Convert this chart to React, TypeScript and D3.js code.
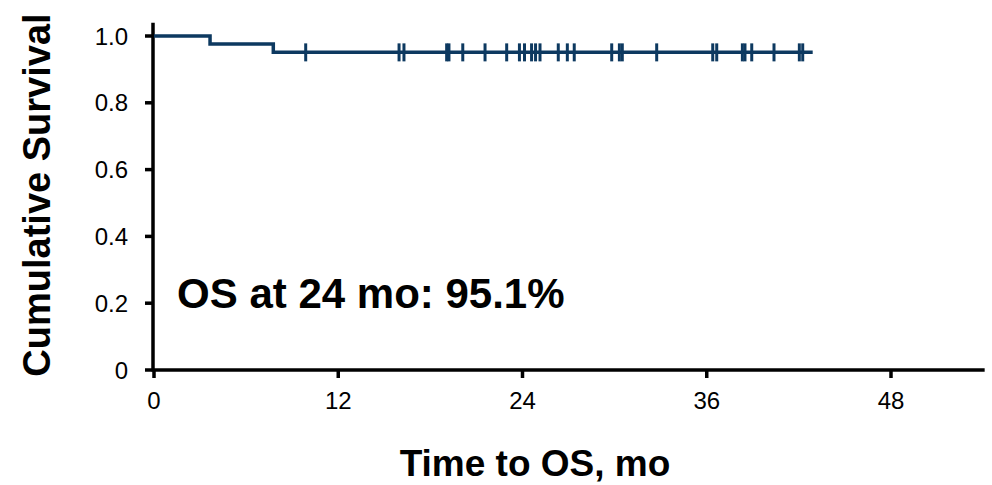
import React from 'react';
import * as d3 from 'd3';

// Kaplan-Meier overall survival
const eventTimes = [3.65, 7.77];
const survivalLevels = [1.0, 0.976, 0.951];
const followUpEnd = 42.9;
const censorTimes = [
  9.88, 15.96, 16.28, 19.06, 19.21, 20.11, 21.56, 22.97, 23.8, 24.13, 24.59,
  24.85, 25.14, 26.33, 26.92, 27.37, 29.81, 30.31, 30.5, 32.74, 36.39, 36.65,
  38.32, 38.49, 38.93, 40.38, 42.03, 42.25,
];
const xTicks = [0, 12, 24, 36, 48];
const yTicks = [0, 0.2, 0.4, 0.6, 0.8, 1.0];
const yTickLabels = ['0', '0.2', '0.4', '0.6', '0.8', '1.0'];
const annotation = 'OS at 24 mo: 95.1%';

const W = 992;
const H = 485;
const FONT = '"Liberation Sans", Arial, sans-serif';
const LINE = '#0d3960';

const App = () => {
  const x = d3.scaleLinear().domain([0, 48]).range([154, 891]);
  const y = d3.scaleLinear().domain([0, 1]).range([370, 36]);

  // build step points
  const pts: [number, number][] = [[0, survivalLevels[0]]];
  eventTimes.forEach((t, i) => {
    pts.push([t, survivalLevels[i]]);
    pts.push([t, survivalLevels[i + 1]]);
  });
  pts.push([followUpEnd, survivalLevels[survivalLevels.length - 1]]);
  const line = d3.line<[number, number]>().x(d => x(d[0])).y(d => y(d[1]));

  const survAt = (t: number) => {
    let s = survivalLevels[0];
    eventTimes.forEach((e, i) => { if (t >= e) s = survivalLevels[i + 1]; });
    return s;
  };

  return (
    <svg width={W} height={H} style={{ position: 'absolute', left: 0, top: 0, background: '#fff' }}>
      {/* axes */}
      <line x1={x(0) - 1} x2={x(54.1)} y1={y(0)} y2={y(0)} stroke="#000" strokeWidth={3.5} />
      <line x1={x(0) - 1} x2={x(0) - 1} y1={y(0) + 1.5} y2={y(1.04)} stroke="#000" strokeWidth={3.5} />
      {yTicks.map((v, i) => (
        <g key={'y' + v}>
          <line x1={x(0) - 9} x2={x(0) - 1} y1={y(v)} y2={y(v)} stroke="#000" strokeWidth={3.5} />
          <text x={128} y={y(v)} dy="0.36em" textAnchor="end" fontFamily={FONT} fontSize={24} fill="#000">
            {yTickLabels[i]}
          </text>
        </g>
      ))}
      {xTicks.map(v => (
        <g key={'x' + v}>
          <line x1={x(v)} x2={x(v)} y1={y(0)} y2={y(0) + 8} stroke="#000" strokeWidth={3.5} />
          <text x={x(v)} y={409} textAnchor="middle" fontFamily={FONT} fontSize={24} fill="#000">
            {v}
          </text>
        </g>
      ))}
      {/* curve */}
      <path d={line(pts) || ''} fill="none" stroke={LINE} strokeWidth={3.5} />
      {censorTimes.map((t, i) => (
        <line key={'c' + i} x1={x(t)} x2={x(t)} y1={y(survAt(t)) - 9} y2={y(survAt(t)) + 9}
          stroke={LINE} strokeWidth={3} />
      ))}
      {/* annotation */}
      <text x={x(1.5)} y={y(0.185)} fontFamily={FONT} fontSize={42} fontWeight="bold" fill="#000">
        {annotation}
      </text>
      {/* axis titles */}
      <text x={535} y={476} textAnchor="middle" fontFamily={FONT} fontSize={37} fontWeight="bold" fill="#000">
        Time to OS, mo
      </text>
      <text transform="translate(50,195) rotate(-90)" textAnchor="middle" fontFamily={FONT} fontSize={38}
        fontWeight="bold" fill="#000">
        Cumulative Survival
      </text>
    </svg>
  );
};

export default App;
